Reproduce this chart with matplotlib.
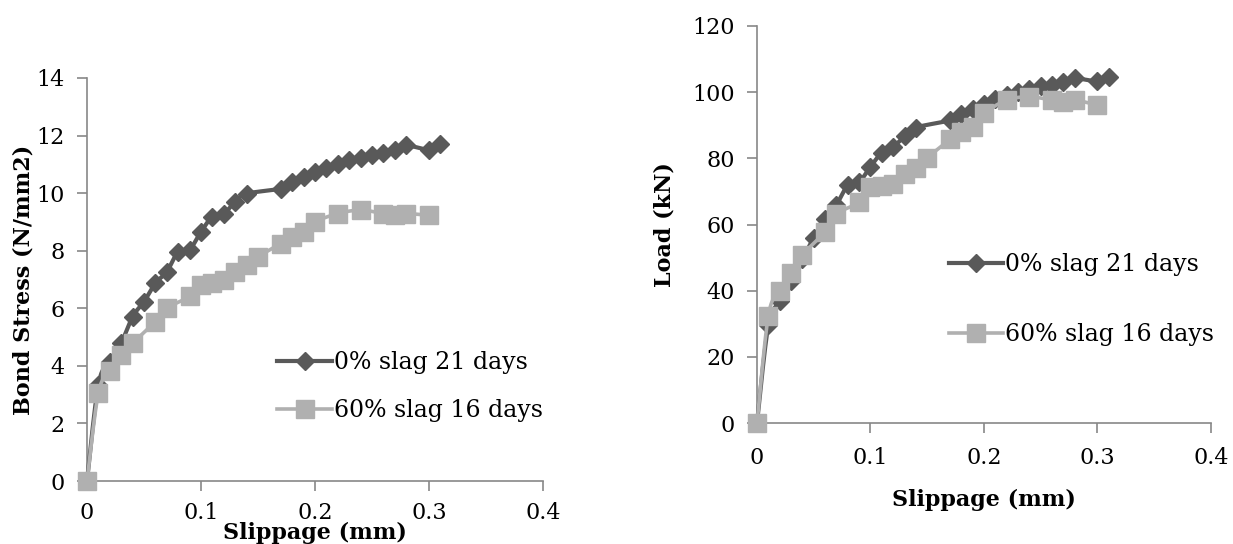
import numpy as np
import matplotlib
matplotlib.use("Agg")
import matplotlib.pyplot as plt

# ==========================================
# data
# ==========================================
x_0slag = [0, 0.01, 0.02, 0.03, 0.04, 0.05, 0.06, 0.07, 0.08, 0.09, 0.10, 0.11, 0.12, 0.13, 0.14,
           0.17, 0.18, 0.19, 0.20, 0.21, 0.22, 0.23, 0.24, 0.25, 0.26, 0.27, 0.28, 0.30, 0.31]
bond_0slag = [0, 3.35, 4.15, 4.79, 5.71, 6.23, 6.87, 7.27, 7.96, 8.04, 8.66, 9.18, 9.29, 9.70, 9.98,
              10.16, 10.39, 10.56, 10.73, 10.88, 11.02, 11.14, 11.23, 11.33, 11.39, 11.51, 11.66, 11.51, 11.69]
load_0slag = [0, 29.5, 36.8, 42.8, 49.5, 56.0, 61.6, 66.0, 71.8, 72.8, 77.5, 81.7, 83.5, 86.6, 89.3,
              91.5, 93.5, 95.0, 96.3, 98.0, 99.0, 100.2, 101.0, 101.8, 102.2, 103.2, 104.2, 103.3, 104.6]

x_60slag = [0, 0.01, 0.02, 0.03, 0.04, 0.06, 0.07, 0.09, 0.10, 0.11, 0.12, 0.13, 0.14, 0.15,
            0.17, 0.18, 0.19, 0.20, 0.22, 0.24, 0.26, 0.27, 0.28, 0.30]
bond_60slag = [0, 3.06, 3.81, 4.39, 4.79, 5.54, 6.00, 6.41, 6.81, 6.87, 6.98, 7.27, 7.50, 7.79,
               8.25, 8.48, 8.66, 9.00, 9.29, 9.41, 9.29, 9.23, 9.29, 9.23]
load_60slag = [0, 32.4, 39.8, 45.3, 50.8, 57.8, 63.2, 66.7, 71.2, 71.7, 72.2, 75.2, 77.2, 80.2,
               85.7, 88.1, 89.6, 93.6, 97.6, 98.6, 97.6, 97.1, 97.6, 96.1]

labels = ['0% slag 21 days', '60% slag 16 days']
x_ticks = [0, 0.1, 0.2, 0.3, 0.4]
x_ticklabels = ['0', '0.1', '0.2', '0.3', '0.4']

DARK = '#595959'
LIGHT = '#b0b0b0'
SPINE = '#878787'

plt.rcParams['font.family'] = ['DejaVu Serif']


def smooth(xs, ys, px_x, px_y, n=16):
    """Excel-like smoothed line (bezier through the points), worked out in pixel space."""
    P = np.column_stack([np.asarray(xs) / px_x, np.asarray(ys) / px_y])
    P = np.vstack([P[0], P, P[-1]])
    t = np.linspace(0, 1, n, endpoint=False)[:, None]
    out = []
    for i in range(1, len(P) - 2):
        p0, p1, p2, p3 = P[i - 1], P[i], P[i + 1], P[i + 2]
        c1 = p1 + (p2 - p0) / 6
        c2 = p2 - (p3 - p1) / 6
        out.append((1 - t) ** 3 * p1 + 3 * (1 - t) ** 2 * t * c1 + 3 * (1 - t) * t ** 2 * c2 + t ** 3 * p2)
    out.append(P[-2][None])
    arr = np.vstack(out)
    return arr[:, 0] * px_x, arr[:, 1] * px_y


def draw_panel(ax, y_dark, y_light, ymax, ystep, ylabel, ax_px, xlabel_y, ylabel_x,
               leg_x, leg_y, leg_space, xpad):
    w_px, h_px = ax_px
    px_x = 0.4 / w_px
    px_y = ymax / h_px

    sx, sy = smooth(x_0slag, y_dark, px_x, px_y)
    ax.plot(sx, sy, color=DARK, lw=3.0, clip_on=False, zorder=3)
    ax.plot(x_0slag, y_dark, ls='none', marker='D', ms=9.5, color=DARK, clip_on=False, zorder=4)
    sx, sy = smooth(x_60slag, y_light, px_x, px_y)
    ax.plot(sx, sy, color=LIGHT, lw=2.6, clip_on=False, zorder=5)
    ax.plot(x_60slag, y_light, ls='none', marker='s', ms=13, color=LIGHT, clip_on=False, zorder=6)

    # proxy handles for the legend
    ax.plot([], [], color=DARK, lw=3.0, marker='D', ms=9.5, label=labels[0])
    ax.plot([], [], color=LIGHT, lw=2.6, marker='s', ms=13, label=labels[1])

    ax.set_xlim(0, 0.4)
    ax.set_ylim(0, ymax)
    ax.set_xticks(x_ticks)
    ax.set_xticklabels(x_ticklabels)
    ax.set_yticks(np.arange(0, ymax + ystep / 2, ystep))

    for s in ['top', 'right']:
        ax.spines[s].set_visible(False)
    for s in ['left', 'bottom']:
        ax.spines[s].set_color(SPINE)
        ax.spines[s].set_linewidth(1.2)
    ax.tick_params(direction='out', length=7, width=1.2, color=SPINE, labelsize=16, pad=9)
    ax.tick_params(axis='x', pad=xpad)

    ax.set_xlabel('Slippage (mm)', fontsize=16, fontweight='bold')
    ax.xaxis.set_label_coords(0.5, xlabel_y)
    ax.xaxis.label.set_va('center')
    ax.set_ylabel(ylabel, fontsize=16, fontweight='bold')
    ax.yaxis.set_label_coords(ylabel_x, 0.5)
    ax.yaxis.label.set_va('center')

    ax.legend(loc='upper left', bbox_to_anchor=(leg_x, leg_y), frameon=False, fontsize=17,
              handlelength=2.3, handletextpad=0.1, labelspacing=leg_space,
              borderpad=0, borderaxespad=0, numpoints=1)


fig = plt.figure(figsize=(12.33, 5.44), dpi=100)

# left panel: bond stress (axis title sits tight under the tick labels)
ax1 = fig.add_axes([87 / 1233, (544 - 481) / 544, 456 / 1233, 403 / 544])
draw_panel(ax1, bond_0slag, bond_60slag, 14, 2, 'Bond Stress (N/mm2)',
           (456, 403), -0.128, -0.14, 0.4175, 0.322, 1.05, 8)

# right panel: load
ax2 = fig.add_axes([757 / 1233, (544 - 423) / 544, 454 / 1233, 397 / 544])
draw_panel(ax2, load_0slag, load_60slag, 120, 20, 'Load (kN)',
           (454, 397), -0.194, -0.203, 0.4225, 0.428, 2.0, 10)

fig.savefig('out.png', dpi=100, facecolor='white')
plt.close(fig)
